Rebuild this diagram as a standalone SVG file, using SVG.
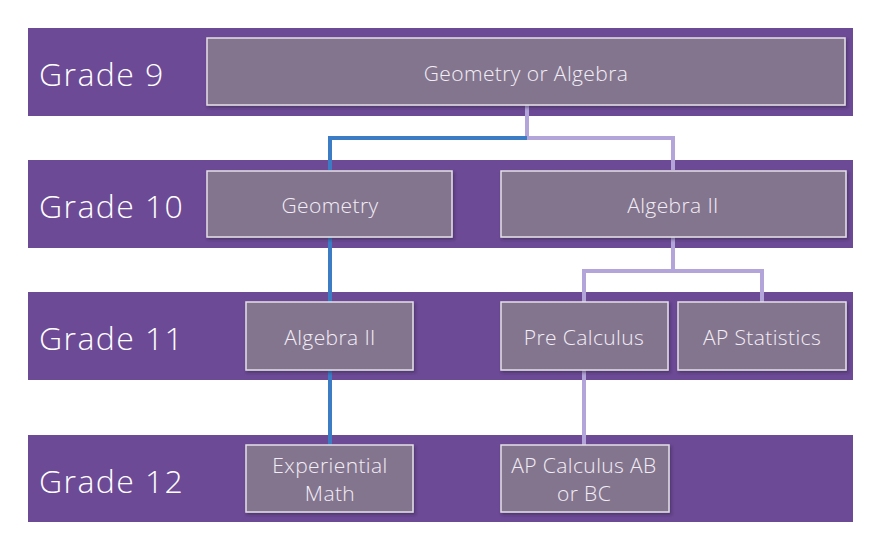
<svg xmlns="http://www.w3.org/2000/svg" width="882" height="551" viewBox="0 0 882 551">
<defs>
<style>
.band{fill:#6D4A95;}
.box{fill:#84748F;stroke:#E4E0E8;stroke-width:1.5;filter:url(#sh);}
.grade{font-family:"Open Sans","Liberation Sans",sans-serif;font-weight:300;font-size:32px;letter-spacing:1.4px;fill:#FFFFFF;}
.lbl{font-family:"Open Sans","Liberation Sans",sans-serif;font-weight:300;font-size:21px;letter-spacing:0.4px;fill:#F2EEF5;text-anchor:middle;}
.blue{fill:none;stroke:#3B7CC4;stroke-width:4;}
.lav{fill:none;stroke:#B3A4D9;stroke-width:4;}
</style>
<filter id="sh" x="-5%" y="-10%" width="110%" height="130%">
<feDropShadow dx="1.5" dy="2" stdDeviation="1.5" flood-color="#2a1a40" flood-opacity="0.5"/>
</filter>
</defs>
<rect width="882" height="551" fill="#FFFFFF"/>
<g id="bands">
<rect class="band" x="28" y="28" width="825" height="88"/>
<rect class="band" x="28" y="160" width="825" height="88"/>
<rect class="band" x="28" y="292" width="825" height="88"/>
<rect class="band" x="28" y="435" width="825" height="87"/>
<text class="grade" x="39" y="86">Grade 9</text>
<text class="grade" x="39" y="218">Grade 10</text>
<text class="grade" x="39" y="350">Grade 11</text>
<text class="grade" x="39" y="493">Grade 12</text>
</g>
<g id="connectors">
<polyline class="lav" points="527,105 527,138 673,138 673,170"/>
<polyline class="blue" points="527,138 330,138 330,170"/>
<line class="blue" x1="330" y1="237" x2="330" y2="302"/>
<line class="blue" x1="330" y1="370" x2="330" y2="445"/>
<polyline class="lav" points="673,237 673,271"/>
<polyline class="lav" points="584,302 584,271 762,271 762,302"/>
<line class="lav" x1="584" y1="370" x2="584" y2="445"/>
</g>
<g id="n-g9">
<rect class="box" x="207" y="38" width="638" height="67"/>
<text class="lbl" x="526" y="81">Geometry or Algebra</text>
</g>
<g id="n-geometry">
<rect class="box" x="207" y="171" width="245" height="66"/>
<text class="lbl" x="330" y="213">Geometry</text>
</g>
<g id="n-alg2-g10">
<rect class="box" x="501" y="171" width="345" height="66"/>
<text class="lbl" x="673" y="213">Algebra II</text>
</g>
<g id="n-alg2-g11">
<rect class="box" x="246" y="302" width="167" height="68"/>
<text class="lbl" x="330" y="345">Algebra II</text>
</g>
<g id="n-precalc">
<rect class="box" x="501" y="302" width="167" height="68"/>
<text class="lbl" x="584" y="345">Pre Calculus</text>
</g>
<g id="n-apstats">
<rect class="box" x="678" y="302" width="168" height="68"/>
<text class="lbl" x="762" y="345">AP Statistics</text>
</g>
<g id="n-exp">
<rect class="box" x="246" y="445" width="167" height="67"/>
<text class="lbl" x="330" y="473">Experiential</text>
<text class="lbl" x="330" y="501">Math</text>
</g>
<g id="n-apcalc">
<rect class="box" x="501" y="445" width="168" height="67"/>
<text class="lbl" x="584" y="473">AP Calculus AB</text>
<text class="lbl" x="584" y="501">or BC</text>
</g>
</svg>
